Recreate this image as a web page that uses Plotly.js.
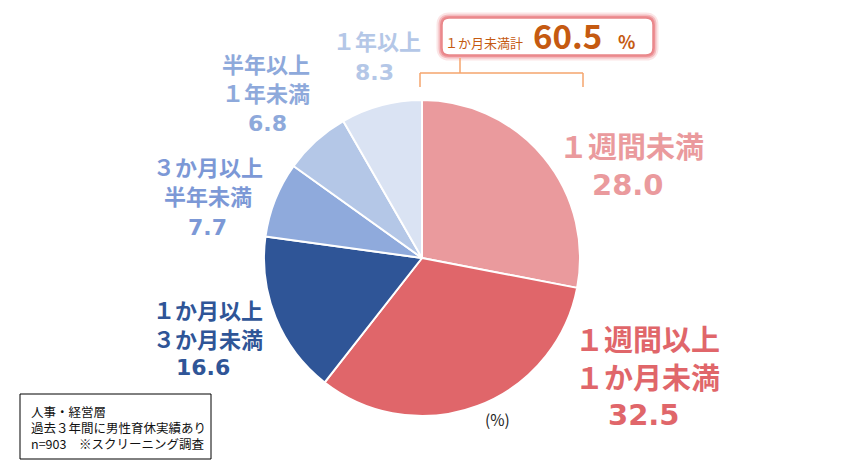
<!DOCTYPE html>
<html>
<head>
<meta charset="utf-8">
<script src="https://cdn.plot.ly/plotly-3.0.1.min.js"></script>
<style>
html,body{margin:0;padding:0;background:#fff;}
#chart{width:846px;height:470px;}
</style>
</head>
<body>
<div id="chart"></div>
<script>
// ---- data ----
const categories = ['１週間未満', '１週間以上<br>１か月未満', '１か月以上<br>３か月未満', '３か月以上<br>半年未満', '半年以上<br>１年未満', '１年以上'];
const values = [28.0, 32.5, 16.6, 7.7, 6.8, 8.3];
const sliceColors = ['#EA9A9D', '#E0666A', '#2F5597', '#8FAADC', '#B4C7E7', '#DAE3F3'];
const labelColors = ['#EA9A9D', '#E0666A', '#2F5597', '#7C98D6', '#8EA9DB', '#B4C7E7'];
const subtotalLabel = '１か月未満計';
const subtotalValue = values[0] + values[1];
const noteLines = ['人事・経営層', '過去３年間に男性育休実績あり', 'n=903　※スクリーニング調査'];
const unitLabel = '(%)';

// ---- layout helpers (pixel -> paper) ----
const W = 846, H = 470;
const X = px => px / W;
const Y = py => 1 - py / H;

// label placement (pixel centers) and sizes
const catPos = [[631,145],[647,357],[208,323.5],[207.5,180.5],[266,77.5],[377,40]];
const valPos = [[628,185],[644,415],[203,367],[207,227],[267,123],[374,72]];
const labelSize = [29,29,22,22,22,22];

const FONT = "'DejaVu Sans', 'Noto Sans CJK JP', sans-serif";
const JFONT = "'Noto Sans CJK JP', sans-serif";

const pieCx = 422, pieCy = 258, pieR = 158;

const trace = {
  type: 'pie',
  values: values,
  labels: categories,
  sort: false,
  direction: 'clockwise',
  rotation: 0,
  textinfo: 'none',
  hoverinfo: 'none',
  showlegend: false,
  marker: { colors: sliceColors, line: { color: '#ffffff', width: 2 } },
  domain: { x: [X(pieCx - pieR), X(pieCx + pieR)], y: [Y(pieCy + pieR), Y(pieCy - pieR)] }
};

const annotations = [];
categories.forEach((c, i) => {
  annotations.push({
    xref: 'paper', yref: 'paper', x: X(catPos[i][0]), y: Y(catPos[i][1]),
    xanchor: 'center', yanchor: 'middle', align: 'center', showarrow: false,
    text: '<b>' + c + '</b>',
    font: { family: JFONT, size: labelSize[i], color: labelColors[i] }
  });
  annotations.push({
    xref: 'paper', yref: 'paper', x: X(valPos[i][0]), y: Y(valPos[i][1]),
    xanchor: 'center', yanchor: 'middle', showarrow: false,
    text: '<b>' + values[i].toFixed(1) + '</b>',
    font: { family: FONT, size: labelSize[i], color: labelColors[i] }
  });
});

// subtotal box texts
annotations.push({
  xref: 'paper', yref: 'paper', x: X(484), y: Y(43), xanchor: 'center', yanchor: 'middle', showarrow: false,
  text: subtotalLabel, font: { family: JFONT, size: 13, color: '#C55A11' }
});
annotations.push({
  xref: 'paper', yref: 'paper', x: X(567), y: Y(35), xanchor: 'center', yanchor: 'middle', showarrow: false,
  text: '<b>' + subtotalValue.toFixed(1) + '</b>', font: { family: JFONT, size: 33, color: '#C55A11' }
});
annotations.push({
  xref: 'paper', yref: 'paper', x: X(626), y: Y(41), xanchor: 'center', yanchor: 'middle', showarrow: false,
  text: '<b>%</b>', font: { family: JFONT, size: 18, color: '#C55A11' }
});
// unit
annotations.push({
  xref: 'paper', yref: 'paper', x: X(497), y: Y(419), xanchor: 'center', yanchor: 'middle', showarrow: false,
  text: unitLabel, font: { family: JFONT, size: 15.5, color: '#222' }
});
// note box text (one annotation per line)
const noteY = [411, 427, 443];
noteLines.forEach((t, i) => {
  annotations.push({
    xref: 'paper', yref: 'paper', x: X(29), y: Y(noteY[i]), xanchor: 'left', yanchor: 'middle', align: 'left', showarrow: false,
    text: t, font: { family: JFONT, size: 12.5, color: '#111' }, height: 15, valign: 'middle'
  });
});

function rrect(x0, y0, x1, y1, r) {
  return 'M' + X(x0 + r) + ',' + Y(y0) +
    ' L' + X(x1 - r) + ',' + Y(y0) +
    ' Q' + X(x1) + ',' + Y(y0) + ' ' + X(x1) + ',' + Y(y0 + r) +
    ' L' + X(x1) + ',' + Y(y1 - r) +
    ' Q' + X(x1) + ',' + Y(y1) + ' ' + X(x1 - r) + ',' + Y(y1) +
    ' L' + X(x0 + r) + ',' + Y(y1) +
    ' Q' + X(x0) + ',' + Y(y1) + ' ' + X(x0) + ',' + Y(y1 - r) +
    ' L' + X(x0) + ',' + Y(y0 + r) +
    ' Q' + X(x0) + ',' + Y(y0) + ' ' + X(x0 + r) + ',' + Y(y0) + ' Z';
}
const boxPath = rrect(442, 18, 653, 55, 7);
const bracket = '#F4A46C';
const shapes = [
  { type: 'path', xref: 'paper', yref: 'paper', path: boxPath, fillcolor: '#fff', line: { color: 'rgba(232,110,115,0.18)', width: 11 } },
  { type: 'path', xref: 'paper', yref: 'paper', path: boxPath, fillcolor: '#fff', line: { color: 'rgba(232,110,115,0.35)', width: 7 } },
  { type: 'path', xref: 'paper', yref: 'paper', path: boxPath, fillcolor: '#fff', line: { color: 'rgba(232,110,115,0.55)', width: 4 } },
  { type: 'path', xref: 'paper', yref: 'paper', path: boxPath, fillcolor: '#fff', line: { color: '#E98689', width: 1.5 } },
  // bracket
  { type: 'line', xref: 'paper', yref: 'paper', x0: X(460), y0: Y(58), x1: X(460), y1: Y(73), line: { color: bracket, width: 1.5 } },
  { type: 'line', xref: 'paper', yref: 'paper', x0: X(420), y0: Y(73), x1: X(583), y1: Y(73), line: { color: bracket, width: 1.5 } },
  { type: 'line', xref: 'paper', yref: 'paper', x0: X(420), y0: Y(73), x1: X(420), y1: Y(87), line: { color: bracket, width: 1.5 } },
  { type: 'line', xref: 'paper', yref: 'paper', x0: X(583), y0: Y(73), x1: X(583), y1: Y(87), line: { color: bracket, width: 1.5 } },
  // note box
  { type: 'rect', xref: 'paper', yref: 'paper', x0: X(20), y0: Y(394), x1: X(211), y1: Y(459), line: { color: '#000', width: 1 }, fillcolor: 'rgba(0,0,0,0)' }
];

const layout = {
  width: W, height: H,
  margin: { l: 0, r: 0, t: 0, b: 0 },
  paper_bgcolor: '#fff', plot_bgcolor: '#fff',
  showlegend: false,
  annotations: annotations,
  shapes: shapes
};

Plotly.newPlot('chart', [trace], layout, { staticPlot: true, displayModeBar: false });
</script>
</body>
</html>
